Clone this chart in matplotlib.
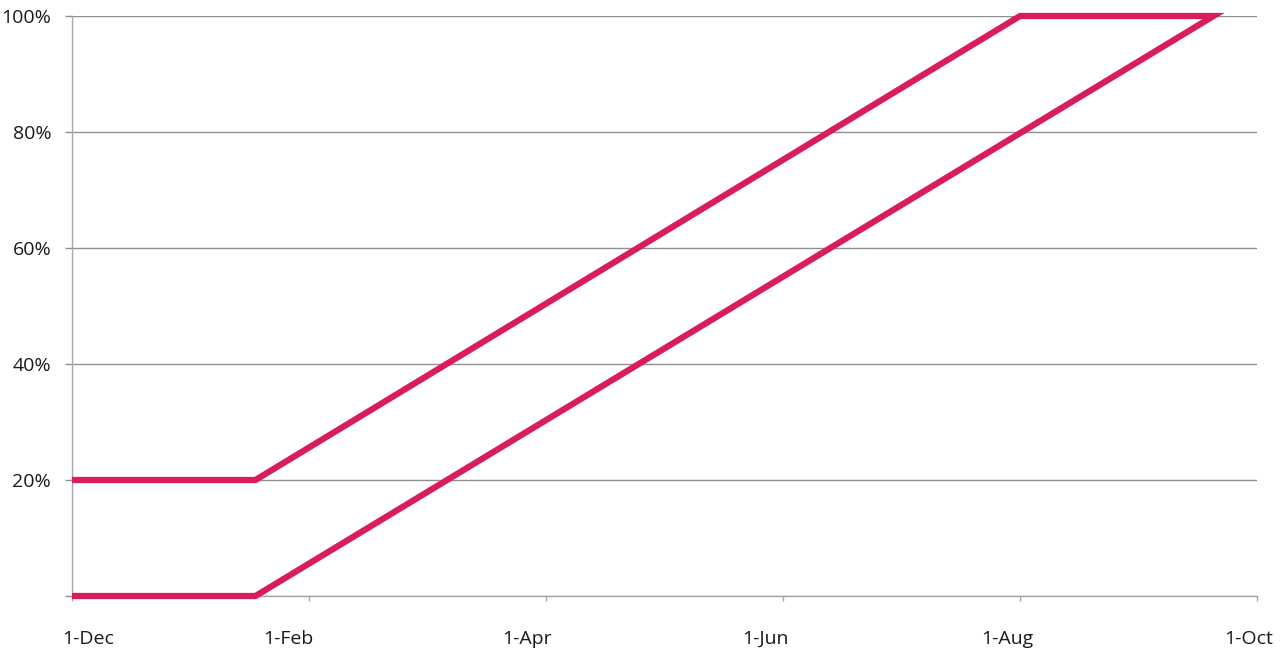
import matplotlib
matplotlib.use("Agg")
import matplotlib.pyplot as plt
import matplotlib.transforms as mtransforms
from datetime import date
import calendar

# ---- data ----
upper_dates = ["2014-12-01", "2015-01-18", "2015-08-01", "2015-09-20"]
upper_values = [20, 20, 100, 100]
lower_dates = ["2014-12-01", "2015-01-18", "2015-09-20"]
lower_values = [0, 0, 100]
tick_dates = ["2014-12-01", "2015-02-01", "2015-04-01", "2015-06-01", "2015-08-01", "2015-10-01"]
tick_labels = ["1-Dec", "1-Feb", "1-Apr", "1-Jun", "1-Aug", "1-Oct"]
y_ticks = [0, 20, 40, 60, 80, 100]
y_labels = ["", "20%", "40%", "60%", "80%", "100%"]

START = date(2014, 12, 1)


def month_pos(s):
    d = date.fromisoformat(s)
    months = (d.year - START.year) * 12 + (d.month - START.month)
    ndays = calendar.monthrange(d.year, d.month)[1]
    return months + (d.day - 1) / ndays


ux = [month_pos(s) for s in upper_dates]
lx = [month_pos(s) for s in lower_dates]
tx = [month_pos(s) for s in tick_dates]

plt.rcParams["font.family"] = ["Open Sans", "DejaVu Sans"]

fig = plt.figure(figsize=(12.83, 6.5), dpi=100)
ax = fig.add_axes([72 / 1283, 54 / 650, (1257 - 72) / 1283, (596 - 16) / 650])

# one continuous outline: upper series then lower series reversed
px = ux + lx[::-1][1:]
py = upper_values + lower_values[::-1][1:]
ax.plot(px, py, color="#D81C5C", lw=4.5, solid_joinstyle="miter",
        solid_capstyle="butt", zorder=3, clip_on=False)

ax.set_xlim(tx[0], tx[-1])
ax.set_ylim(0, 100)
ax.set_xticks(tx)
ax.set_xticklabels(tick_labels)
ax.set_yticks(y_ticks)
ax.set_yticklabels(y_labels)

grid_c = "#8f8f8f"
ax.yaxis.grid(True, color=grid_c, lw=1.0)
ax.set_axisbelow(True)
for s in ["top", "right"]:
    ax.spines[s].set_visible(False)
ax.spines["left"].set_color("#a6a6a6")
ax.spines["bottom"].set_color("#a6a6a6")
ax.spines["left"].set_linewidth(1.0)
ax.spines["bottom"].set_linewidth(1.0)

ax.tick_params(axis="y", direction="out", length=5, width=1, color=grid_c,
               labelsize=14, labelcolor="#1a1a1a", pad=10)
ax.tick_params(axis="x", direction="out", length=3.5, width=1, color="#a6a6a6",
               labelsize=14, labelcolor="#1a1a1a", pad=21)

offsets_px = [16, -21, -19, -18, -13, -8]
for lab, dx in zip(ax.get_xticklabels(), offsets_px):
    lab.set_transform(lab.get_transform() +
                      mtransforms.ScaledTranslation(dx / 100, 0, fig.dpi_scale_trans))

fig.savefig("out.png", dpi=100)
